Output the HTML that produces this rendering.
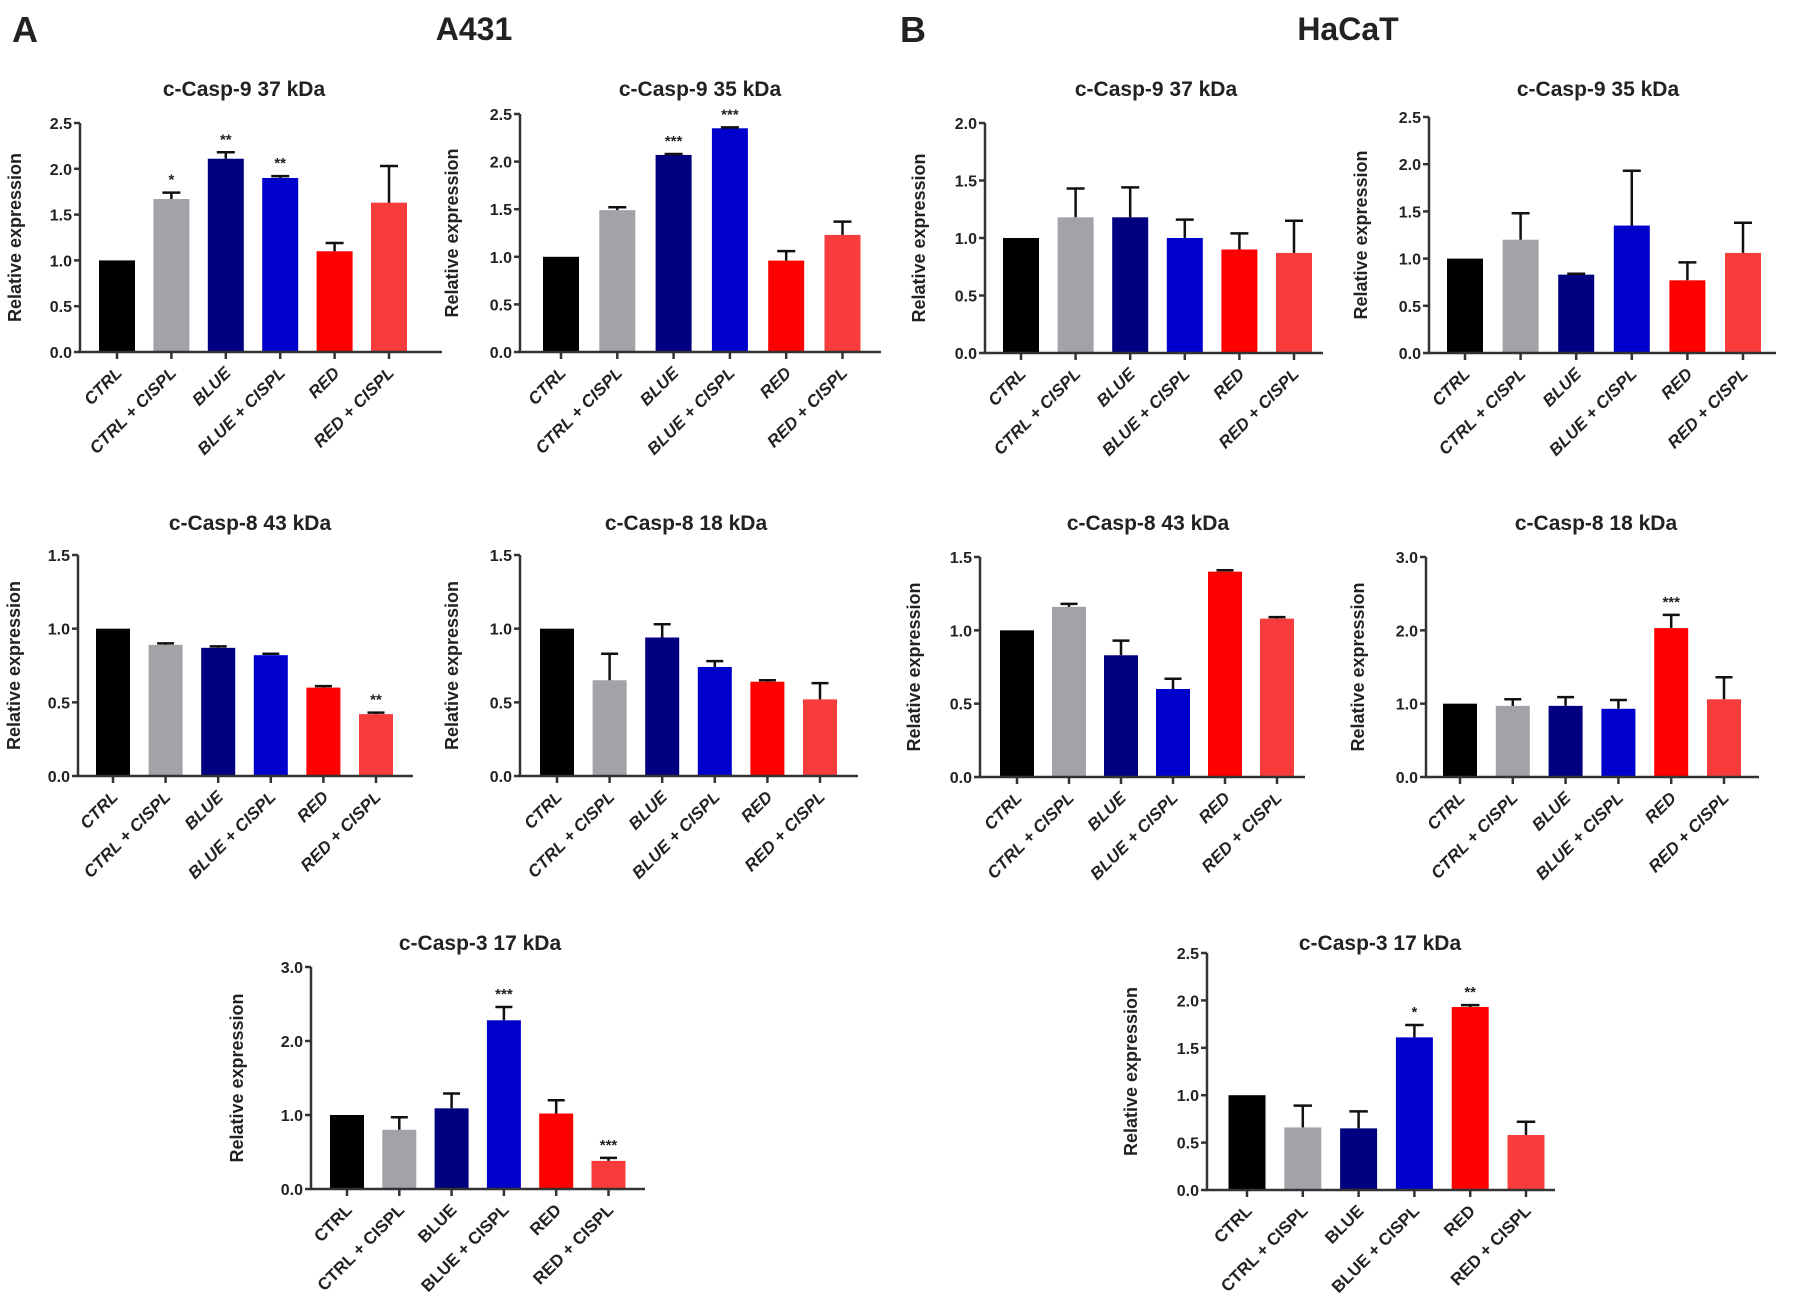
<!DOCTYPE html>
<html><head><meta charset="utf-8"><style>
html,body{margin:0;padding:0;background:#fff}
svg{display:block}
text{font-family:"Liberation Sans",Arial,sans-serif;font-weight:bold;fill:#222}
</style></head><body>
<svg id="fig" width="1795" height="1312" viewBox="0 0 1795 1312">
<text x="12" y="42" font-size="36">A</text>
<text x="474" y="40" font-size="32" text-anchor="middle">A431</text>
<text x="900" y="42" font-size="36">B</text>
<text x="1348" y="40" font-size="32" text-anchor="middle">HaCaT</text>
</svg>
<script>
const categories = ["CTRL","CTRL + CISPL","BLUE","BLUE + CISPL","RED","RED + CISPL"];
const barColors = ["#000000","#a2a2a8","#000080","#0000cc","#ff0000","#f83c3c"];

const a1Values = [1,1.67,2.11,1.90,1.10,1.63];
const a1Errors = [0,0.07,0.07,0.02,0.09,0.40];
const a1Sig = ["","*","**","**","",""];
const a1Ticks = ["0.0","0.5","1.0","1.5","2.0","2.5"];

const a2Values = [1,1.49,2.07,2.35,0.96,1.23];
const a2Errors = [0,0.03,0.01,0.01,0.10,0.14];
const a2Sig = ["","","***","***","",""];
const a2Ticks = ["0.0","0.5","1.0","1.5","2.0","2.5"];

const a3Values = [1,0.89,0.87,0.82,0.60,0.42];
const a3Errors = [0,0.01,0.01,0.01,0.01,0.01];
const a3Sig = ["","","","","","**"];
const a3Ticks = ["0.0","0.5","1.0","1.5"];

const a4Values = [1,0.65,0.94,0.74,0.64,0.52];
const a4Errors = [0,0.18,0.09,0.04,0.01,0.11];
const a4Sig = ["","","","","",""];
const a4Ticks = ["0.0","0.5","1.0","1.5"];

const a5Values = [1,0.80,1.09,2.28,1.02,0.38];
const a5Errors = [0,0.17,0.20,0.18,0.18,0.04];
const a5Sig = ["","","","***","","***"];
const a5Ticks = ["0.0","1.0","2.0","3.0"];

const b1Values = [1,1.18,1.18,1.00,0.90,0.87];
const b1Errors = [0,0.25,0.26,0.16,0.14,0.28];
const b1Sig = ["","","","","",""];
const b1Ticks = ["0.0","0.5","1.0","1.5","2.0"];

const b2Values = [1,1.20,0.83,1.35,0.77,1.06];
const b2Errors = [0,0.28,0.01,0.58,0.19,0.32];
const b2Sig = ["","","","","",""];
const b2Ticks = ["0.0","0.5","1.0","1.5","2.0","2.5"];

const b3Values = [1,1.16,0.83,0.60,1.40,1.08];
const b3Errors = [0,0.02,0.10,0.07,0.01,0.01];
const b3Sig = ["","","","","",""];
const b3Ticks = ["0.0","0.5","1.0","1.5"];

const b4Values = [1,0.97,0.97,0.93,2.03,1.06];
const b4Errors = [0,0.09,0.12,0.12,0.18,0.30];
const b4Sig = ["","","","","***",""];
const b4Ticks = ["0.0","1.0","2.0","3.0"];

const b5Values = [1,0.66,0.65,1.61,1.93,0.58];
const b5Errors = [0,0.23,0.18,0.13,0.02,0.14];
const b5Sig = ["","","","*","**",""];
const b5Ticks = ["0.0","0.5","1.0","1.5","2.0","2.5"];

const NS = "http://www.w3.org/2000/svg";
const svg = document.getElementById("fig");
function mk(tag, attrs, parent){
  const e = document.createElementNS(NS, tag);
  for (const k in attrs) e.setAttribute(k, attrs[k]);
  (parent||svg).appendChild(e);
  return e;
}

function drawPanel(cfg, values, errors, sig, ticks){
  const g = mk("g", {});
  
  
  const yMax = parseFloat(ticks[ticks.length-1]);
  const yScale = v => cfg.y0 - (v / yMax) * (cfg.y0 - cfg.yTop);
  const xScale = i => cfg.c0 + i * cfg.step;

  const t = mk("text", {x: cfg.titleX, y: cfg.titleY, "font-size": 21, "text-anchor": "middle"}, g);
  t.textContent = cfg.title;
  
  

  const yt = mk("text", {x: 0, y: 0, "font-size": 18, "text-anchor": "middle",
    transform: "translate(" + (cfg.x0 - cfg.yTitleOff) + "," + ((cfg.y0 + cfg.yTop)/2) + ") rotate(-90)"}, g);
  yt.textContent = "Relative expression";
  
  

  values.forEach((v, i) => {
    const cx = xScale(i);
    const r = mk("rect", {x: cx - cfg.barW/2, y: yScale(v), width: cfg.barW, height: cfg.y0 - yScale(v), fill: barColors[i]}, g);
    
    
    const e = errors[i];
    if (e > 0) {
      const yTopE = yScale(v + e);
      const l = mk("path", {d: "M" + cx + "," + yScale(v) + "V" + yTopE + "M" + (cx - cfg.barW*0.25) + "," + yTopE + "H" + (cx + cfg.barW*0.25),
        stroke: "#111", "stroke-width": 2.5, fill: "none"}, g);
      
      
    }
    if (sig[i]) {
      const s = mk("text", {x: cx, y: yScale(v + e) - 8, "font-size": 15, "text-anchor": "middle"}, g);
      s.textContent = sig[i];
      
      
    }
    const tk = mk("line", {x1: cx, x2: cx, y1: cfg.y0, y2: cfg.y0 + 7, stroke: "#333", "stroke-width": 2.5}, g);
    
    
    const lb = mk("text", {x: 0, y: 0, "font-size": 17, "text-anchor": "end",
      "font-style": cfg.italic ? "italic" : "normal",
      transform: "translate(" + (cx + 6) + "," + (cfg.y0 + 22) + ") rotate(-45)"}, g);
    lb.textContent = categories[i];
    
    
  });

  const ax = mk("path", {d: "M" + cfg.x0 + "," + cfg.yTop + "V" + cfg.y0 + "H" + cfg.xEnd, stroke: "#333", "stroke-width": 2.5, fill: "none"}, g);
  
  
  ticks.forEach(tl => {
    const y = yScale(parseFloat(tl));
    const tk = mk("line", {x1: cfg.x0 - 6, x2: cfg.x0, y1: y, y2: y, stroke: "#333", "stroke-width": 2.5}, g);
    
    
    const tx = mk("text", {x: cfg.x0 - 8, y: y + 6, "font-size": 16, "text-anchor": "end"}, g);
    tx.textContent = tl;
    
    
  });
}

drawPanel({name:"chart-a431-casp9-37", title:"c-Casp-9 37 kDa", x0:80, xEnd:442, y0:352, yTop:123, c0:117, step:54.4, barW:36, titleX:244, titleY:96, italic:true, yTitleOff:59}, a1Values, a1Errors, a1Sig, a1Ticks);
drawPanel({name:"chart-a431-casp9-35", title:"c-Casp-9 35 kDa", x0:520, xEnd:881, y0:352, yTop:114, c0:561, step:56.3, barW:36, titleX:700, titleY:96, italic:true, yTitleOff:62}, a2Values, a2Errors, a2Sig, a2Ticks);
drawPanel({name:"chart-a431-casp8-43", title:"c-Casp-8 43 kDa", x0:78, xEnd:413, y0:776, yTop:555, c0:113, step:52.6, barW:34, titleX:250, titleY:530, italic:true, yTitleOff:58}, a3Values, a3Errors, a3Sig, a3Ticks);
drawPanel({name:"chart-a431-casp8-18", title:"c-Casp-8 18 kDa", x0:520, xEnd:858, y0:776, yTop:555, c0:557, step:52.6, barW:34, titleX:686, titleY:530, italic:true, yTitleOff:62}, a4Values, a4Errors, a4Sig, a4Ticks);
drawPanel({name:"chart-a431-casp3-17", title:"c-Casp-3 17 kDa", x0:311, xEnd:645, y0:1189, yTop:967, c0:347, step:52.3, barW:34, titleX:480, titleY:950, italic:false, yTitleOff:68}, a5Values, a5Errors, a5Sig, a5Ticks);
drawPanel({name:"chart-hacat-casp9-37", title:"c-Casp-9 37 kDa", x0:985, xEnd:1323, y0:353, yTop:123, c0:1021, step:54.6, barW:36, titleX:1156, titleY:96, italic:true, yTitleOff:60}, b1Values, b1Errors, b1Sig, b1Ticks);
drawPanel({name:"chart-hacat-casp9-35", title:"c-Casp-9 35 kDa", x0:1429, xEnd:1776, y0:353, yTop:117, c0:1465, step:55.6, barW:36, titleX:1598, titleY:96, italic:true, yTitleOff:62}, b2Values, b2Errors, b2Sig, b2Ticks);
drawPanel({name:"chart-hacat-casp8-43", title:"c-Casp-8 43 kDa", x0:980, xEnd:1305, y0:777, yTop:557, c0:1017, step:52, barW:34, titleX:1148, titleY:530, italic:true, yTitleOff:60}, b3Values, b3Errors, b3Sig, b3Ticks);
drawPanel({name:"chart-hacat-casp8-18", title:"c-Casp-8 18 kDa", x0:1426, xEnd:1759, y0:777, yTop:557, c0:1460, step:52.8, barW:34, titleX:1596, titleY:530, italic:true, yTitleOff:62}, b4Values, b4Errors, b4Sig, b4Ticks);
drawPanel({name:"chart-hacat-casp3-17", title:"c-Casp-3 17 kDa", x0:1207, xEnd:1555, y0:1190, yTop:953, c0:1247, step:55.8, barW:37, titleX:1380, titleY:950, italic:false, yTitleOff:70}, b5Values, b5Errors, b5Sig, b5Ticks);
</script>
</body></html>
